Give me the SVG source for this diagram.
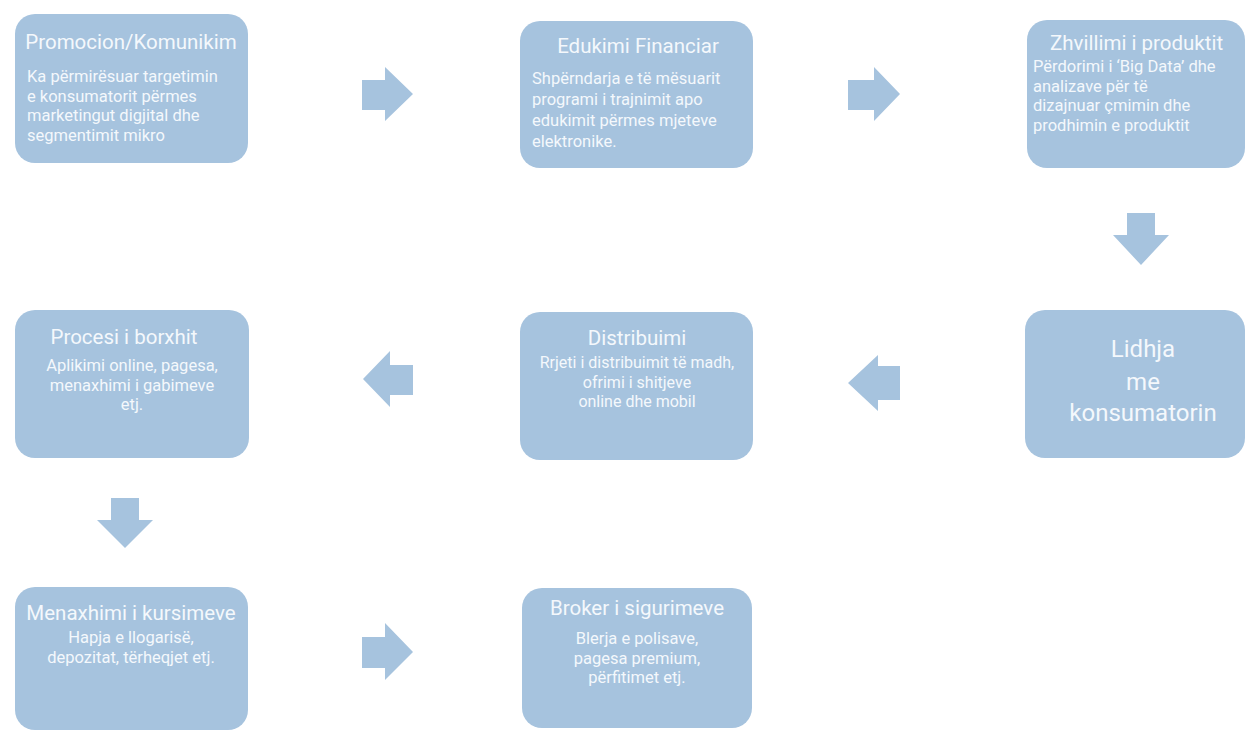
<svg xmlns="http://www.w3.org/2000/svg" width="1246" height="731" viewBox="0 0 1246 731">
<style>
.box{fill:#a6c3de}
.arr{fill:#a6c3de}
text{font-family:Roboto,"Noto Sans",sans-serif;fill:#f4f8fc}
.t{font-size:20.5px}
.b{font-size:16.5px}
.m{text-anchor:middle}
.big{font-size:24px}
</style>
<rect width="1246" height="731" fill="#ffffff"/>
<g id="connectors">
<path class="arr" d="M362,80 H385 V67 L413,94 L385,121 V110 H362 Z"/>
<path class="arr" d="M848,80 H874 V67 L900,94 L874,121 V110 H848 Z"/>
<path class="arr" d="M1127,213 V235 H1113 L1141,265 L1169,235 H1155 V213 Z"/>
<path class="arr" d="M900,366 H878 V355 L848,383 L878,411 V400 H900 Z"/>
<path class="arr" d="M413,365 H390 V351 L363,379 L390,407 V395 H413 Z"/>
<path class="arr" d="M111,498 V520 H97 L125,548 L153,520 H139 V498 Z"/>
<path class="arr" d="M362,637 H385 V623 L413,652 L385,680 V668 H362 Z"/>
</g>
<g id="n1">
<rect class="box" x="15" y="14" width="233" height="149" rx="20"/>
<text class="t" x="131" y="49" text-anchor="middle">Promocion/Komunikim</text>
<text class="b" x="27" y="82">Ka përmirësuar targetimin</text>
<text class="b" x="27" y="101.5">e konsumatorit përmes</text>
<text class="b" x="27" y="121">marketingut digjital dhe</text>
<text class="b" x="27" y="140.5">segmentimit mikro</text>
</g>
<g id="n2">
<rect class="box" x="520" y="21" width="233" height="147" rx="20"/>
<text class="t m" x="638" y="53">Edukimi Financiar</text>
<text class="b" x="532" y="84">Shpërndarja e të mësuarit</text>
<text class="b" x="532" y="105">programi i trajnimit apo</text>
<text class="b" x="532" y="126">edukimit përmes mjeteve</text>
<text class="b" x="532" y="147">elektronike.</text>
</g>
<g id="n3">
<rect class="box" x="1027" y="20" width="218" height="148" rx="20"/>
<text class="t" x="1050" y="50">Zhvillimi i produktit</text>
<text class="b" x="1033" y="72">Përdorimi i ‘Big Data’ dhe</text>
<text class="b" x="1033" y="91.5"> analizave për të</text>
<text class="b" x="1033" y="111">dizajnuar çmimin dhe</text>
<text class="b" x="1033" y="130.5">prodhimin e produktit</text>
</g>
<g id="n4">
<rect class="box" x="1025" y="310" width="220" height="148" rx="20"/>
<text class="big m" x="1143" y="357">Lidhja</text>
<text class="big m" x="1143" y="390">me</text>
<text class="big m" x="1143" y="421">konsumatorin</text>
</g>
<g id="n5">
<rect class="box" x="520" y="312" width="233" height="148" rx="20"/>
<text class="t m" x="637" y="345">Distribuimi</text>
<text class="b m" x="637" y="368" style="font-size:16px">Rrjeti i distribuimit të madh,</text>
<text class="b m" x="637" y="387.5" style="font-size:16px">ofrimi i shitjeve</text>
<text class="b m" x="637" y="407" style="font-size:16px">online dhe mobil</text>
</g>
<g id="n6">
<rect class="box" x="15" y="310" width="234" height="148" rx="20"/>
<text class="t m" x="124" y="344">Procesi i borxhit</text>
<text class="b m" x="132" y="371">Aplikimi online, pagesa,</text>
<text class="b m" x="132" y="390.5">menaxhimi i gabimeve</text>
<text class="b m" x="132" y="410">etj.</text>
</g>
<g id="n7">
<rect class="box" x="15" y="587" width="233" height="143" rx="20"/>
<text class="t m" x="131" y="620">Menaxhimi i kursimeve</text>
<text class="b m" x="131" y="643">Hapja e llogarisë,</text>
<text class="b m" x="131" y="663">depozitat, tërheqjet etj.</text>
</g>
<g id="n8">
<rect class="box" x="522" y="588" width="230" height="140" rx="20"/>
<text class="t m" x="637" y="615">Broker i sigurimeve</text>
<text class="b m" x="637" y="644">Blerja e polisave,</text>
<text class="b m" x="637" y="663.5">pagesa premium,</text>
<text class="b m" x="637" y="683">përfitimet etj.</text>
</g>
</svg>
